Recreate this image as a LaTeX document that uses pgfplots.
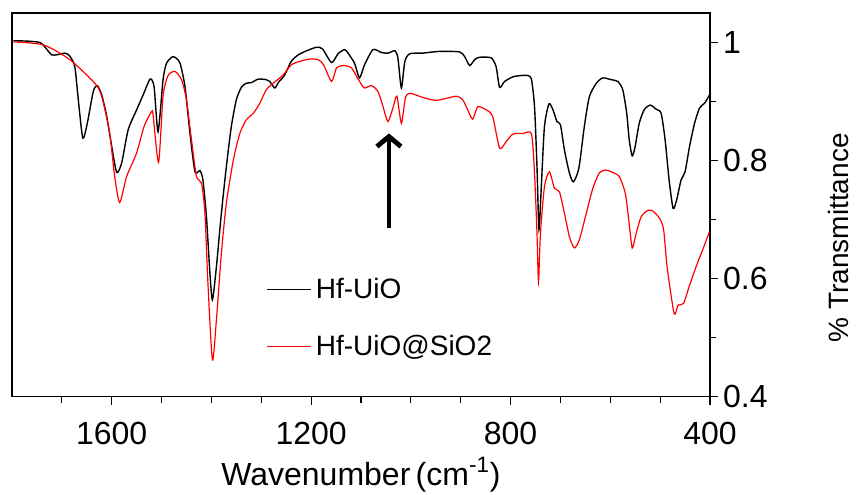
\documentclass[border=0pt]{standalone}
\usepackage{pgfplots}
\pgfplotsset{compat=1.18}
\usepackage{fontspec}
\setmainfont{Liberation Sans}
\usetikzlibrary{arrows.meta}
\newcommand{\figfont}{\fontsize{14}{16}\selectfont}
\newcommand{\tickfont}{\fontsize{16}{18}\selectfont}

\begin{document}
\begin{tikzpicture}
\begin{axis}[
  width=349pt, height=191.85pt, scale only axis,
  x dir=reverse, xmin=400, xmax=1800, ymin=0.4, ymax=1.05,
  xtick={400,800,1200,1600},
  minor xtick={500,600,700,900,1000,1100,1300,1400,1500,1700},
  ytick={0.4,0.6,0.8,1.0}, minor ytick={0.5,0.7,0.9},
  xtick pos=left, ytick pos=right, yticklabel pos=right, tick align=outside,
  major tick length=4pt, minor tick length=3pt,
  axis line style={line width=0.6pt}, every tick/.style={black, line width=0.6pt},
  /pgf/number format/assume math mode=true,
  /pgf/number format/1000 sep={},
  yticklabel style={/pgf/number format/fixed, /pgf/number format/precision=1, xshift=-1pt},
  xticklabel style={yshift=-5pt},
  tick label style={font=\tickfont},
  xlabel={Wavenumber\,(cm\textsuperscript{-1})},
  ylabel={\% Transmittance},
  xlabel style={font=\tickfont, at={(axis description cs:0.5,0)}, anchor=center, yshift=-39pt},
  ylabel style={font=\figfont, at={(axis description cs:1.1834,0.414)}, anchor=center},
  legend style={font=\figfont, draw=none, fill=none, at={(axis description cs:0.364,0.205)},
    anchor=west, row sep=13pt, inner sep=0pt},
  legend cell align=left,
  legend image code/.code={\draw[#1] (0pt,0pt) -- (22pt,0pt);},
]
\addplot[black, line width=0.7pt, smooth, tension=0.4] coordinates {
(1797,1.003) (1744,1.000) (1720,0.979) (1694,0.982) (1684,0.977) (1674,0.959)
(1667,0.903) (1658,0.838) (1649,0.863) (1637,0.917) (1629,0.927) (1620,0.911)
(1610,0.875) (1600,0.824) (1590,0.780) (1580,0.796) (1567,0.852) (1550,0.886)
(1537,0.911) (1523,0.938) (1515,0.925) (1507,0.849) (1497,0.937) (1490,0.965)
(1478,0.976) (1473,0.975) (1463,0.965) (1453,0.925) (1443,0.846) (1433,0.781)
(1423,0.783) (1417,0.767) (1410,0.705) (1403,0.609) (1398,0.564) (1390,0.620)
(1380,0.711) (1370,0.790) (1360,0.858) (1350,0.903) (1340,0.924) (1330,0.931)
(1320,0.932) (1306,0.938) (1290,0.937) (1283,0.934) (1273,0.923) (1266,0.932)
(1253,0.945) (1240,0.968) (1226,0.979) (1209,0.986) (1189,0.992) (1177,0.989)
(1159,0.966) (1146,0.981) (1133,0.988) (1126,0.982) (1113,0.965) (1103,0.940)
(1093,0.962) (1076,0.988) (1059,0.983) (1046,0.982) (1032,0.986) (1026,0.974)
(1019,0.923) (1012,0.968) (1002,0.981) (976,0.982) (942,0.985) (902,0.984)
(892,0.976) (882,0.961) (872,0.971) (862,0.975) (839,0.974) (829,0.959)
(822,0.924) (812,0.934) (795,0.942) (779,0.944) (765,0.944) (758,0.937)
(752,0.892) (747,0.790) (743,0.683) (738,0.762) (732,0.858) (723,0.896)
(715,0.886) (707,0.866) (700,0.861) (692,0.818) (682,0.779) (674,0.764)
(663,0.787) (652,0.858) (642,0.908) (628,0.931) (615,0.940) (598,0.937)
(585,0.934) (575,0.920) (567,0.880) (562,0.835) (556,0.808) (550,0.824)
(542,0.863) (532,0.886) (520,0.894) (508,0.887) (498,0.880) (490,0.835)
(482,0.767) (474,0.719) (467,0.733) (458,0.767) (450,0.781) (441,0.824)
(431,0.863) (421,0.889) (411,0.897) (401,0.911)
};
\addlegendentry{Hf-UiO}
\addplot[red, line width=0.6pt, smooth, tension=0.4] coordinates {
(1797,1.001) (1737,0.996) (1684,0.971) (1634,0.931) (1620,0.909) (1604,0.846)
(1594,0.773) (1584,0.729) (1570,0.773) (1550,0.813) (1535,0.858) (1520,0.883)
(1517,0.877) (1506,0.797) (1497,0.909) (1487,0.944) (1473,0.951) (1460,0.937)
(1450,0.903) (1440,0.835) (1430,0.773) (1420,0.762) (1413,0.711) (1407,0.592)
(1398,0.462) (1390,0.530) (1380,0.643) (1370,0.728) (1356,0.801) (1343,0.846)
(1330,0.869) (1316,0.880) (1303,0.897) (1290,0.920) (1276,0.931) (1256,0.945)
(1240,0.962) (1223,0.968) (1203,0.972) (1186,0.971) (1175,0.962) (1159,0.934)
(1149,0.957) (1136,0.961) (1119,0.957) (1103,0.934) (1093,0.923) (1079,0.927)
(1066,0.917) (1056,0.892) (1046,0.866) (1036,0.889) (1028,0.909) (1019,0.863)
(1011,0.906) (1002,0.914) (976,0.907) (949,0.902) (909,0.909) (896,0.903)
(886,0.886) (876,0.870) (866,0.891) (849,0.886) (836,0.875) (822,0.821)
(809,0.832) (795,0.845) (775,0.846) (758,0.845) (752,0.779) (747,0.677)
(744,0.595) (740,0.677) (732,0.756) (722,0.781) (712,0.753) (702,0.747)
(692,0.711) (682,0.671) (672,0.652) (662,0.666) (648,0.711) (635,0.753)
(622,0.779) (610,0.784) (598,0.781) (582,0.773) (570,0.745) (563,0.700)
(556,0.652) (548,0.677) (538,0.705) (524,0.716) (514,0.714) (501,0.702)
(493,0.683) (486,0.620) (472,0.541) (464,0.555) (453,0.558) (442,0.586)
(428,0.620) (411,0.657) (401,0.680)
};
\addlegendentry{Hf-UiO@SiO2}
\draw[line width=2.4pt, -{Straight Barb[length=5pt, width=12pt]}] (axis cs:1044,0.686) -- (axis cs:1044,0.846);
\end{axis}
\pgfresetboundingbox
\path[use as bounding box] ([shift={(-6pt,-49pt)}]current axis.south west) rectangle ([shift={(73pt,6.5pt)}]current axis.north east);
\end{tikzpicture}
\end{document}
